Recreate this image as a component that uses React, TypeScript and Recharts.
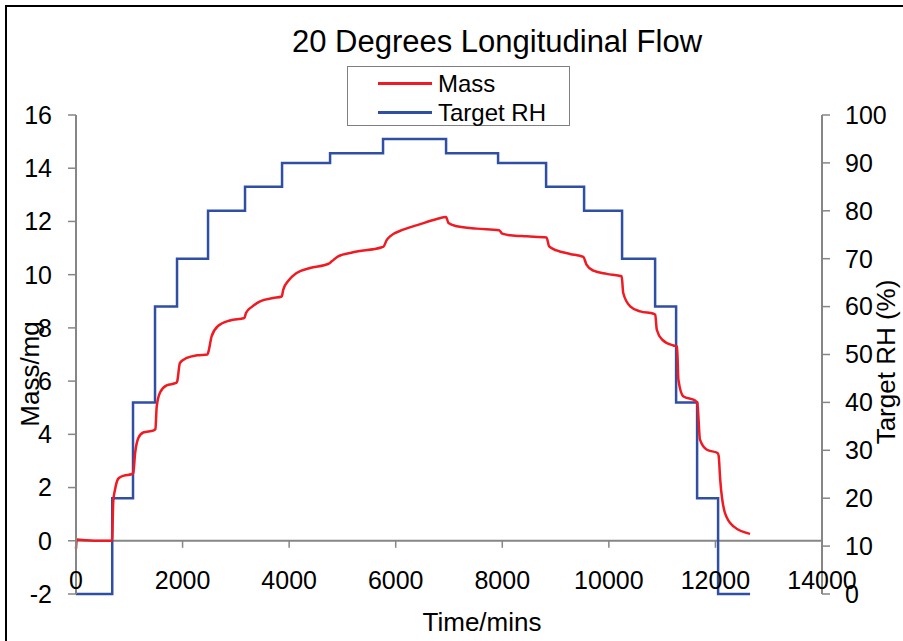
import React from "react"
import {
  LineChart,
  Line,
  XAxis,
  YAxis,
  Legend,
  ReferenceLine,
} from "recharts"

// Mass (mg)
const massTimes = [
  0, 15, 200, 450, 675, 700, 730, 800, 900, 1040,
  1075, 1110, 1170, 1260, 1460, 1490, 1515, 1580, 1700, 1880,
  1900, 1950, 2080, 2270, 2465, 2485, 2545, 2670, 2890, 3160,
  3190, 3300, 3455, 3700, 3860, 3890, 3985, 4140, 4390, 4740,
  4800, 4920, 5200, 5740, 5770, 5830, 5900, 6140, 6460, 6770,
  6945, 6990, 7150, 7520, 7940, 8000, 8150, 8460, 8830, 8880,
  9020, 9270, 9520, 9580, 9710, 9960, 10240, 10270, 10400, 10590,
  10840, 10870, 10900, 11000, 11210, 11280, 11305, 11400, 11620, 11660,
  11710, 11840, 12040, 12060, 12090, 12180, 12340, 12650,
]
const massValues = [
  -0.3, 0.05, 0.02, 0.0, 0.0, 1.5, 1.9, 2.35, 2.45, 2.5,
  2.55, 3.3, 3.86, 4.07, 4.15, 4.2, 5.05, 5.58, 5.84, 5.93,
  6.0, 6.68, 6.87, 6.97, 7.0, 7.1, 7.68, 8.08, 8.28, 8.37,
  8.56, 8.79, 9.0, 9.12, 9.18, 9.44, 9.77, 10.06, 10.25, 10.41,
  10.5, 10.69, 10.84, 11.03, 11.05, 11.3, 11.45, 11.69, 11.9, 12.09,
  12.17, 11.94, 11.82, 11.73, 11.67, 11.54, 11.48, 11.44, 11.4, 11.06,
  10.91, 10.78, 10.67, 10.38, 10.15, 10.03, 9.94, 9.31, 8.81, 8.62,
  8.53, 8.5, 7.93, 7.56, 7.34, 7.3, 6.05, 5.42, 5.27, 5.18,
  3.8, 3.42, 3.3, 3.2, 2.29, 1.04, 0.54, 0.26,
]

// Target RH (%) steps
const rhTimes = [
  0, 680, 1070, 1483, 1896, 2478, 3172, 3867, 4768, 5762,
  6945, 7921, 8822, 9535, 10248, 10868, 11262, 11656, 12050, 12650,
]
const rhValues = [
  0, 20, 40, 60, 70, 80, 85, 90, 92, 95,
  92, 90, 85, 80, 70, 60, 40, 20, 0, 0,
]

const timeTicks = [0, 2000, 4000, 6000, 8000, 10000, 12000, 14000]
const massTicks = [-2, 0, 2, 4, 6, 8, 10, 12, 14, 16]
const rhTicks = [0, 10, 20, 30, 40, 50, 60, 70, 80, 90, 100]

const W = 903
const H = 641
const PLOT_LEFT = 76
const PLOT_RIGHT = 822
const PLOT_TOP = 115
const PLOT_BOTTOM = 594
const AXIS = "#868686"
const RED = "#f01a22"
const BLUE = "#2f4fa5"
const FONT = 'Arial, "Liberation Sans", sans-serif'

const massData = massTimes.map((t, i) => ({ t, v: massValues[i] }))
const rhData = rhTimes.map((t, i) => ({ t, v: rhValues[i] }))

// x axis sits on mass = 0
const zeroY =
  PLOT_TOP +
  ((massTicks[massTicks.length - 1] - 0) / (massTicks[massTicks.length - 1] - massTicks[0])) *
    (PLOT_BOTTOM - PLOT_TOP)

function TimeTick({ x, payload }: any) {
  return (
    <g>
      <line x1={x} x2={x} y1={zeroY} y2={zeroY + 7} stroke={AXIS} strokeWidth={1.5} />
      <text x={x} y={zeroY + 48} textAnchor="middle" fontSize={25} fill="#000">
        {payload.value}
      </text>
    </g>
  )
}

function LegendBox() {
  const rows = [
    { name: "Mass", color: RED },
    { name: "Target RH", color: BLUE },
  ]
  return (
    <div
      style={{
        width: 223,
        height: 60,
        boxSizing: "border-box",
        border: "1px solid #808080",
        background: "#fff",
        paddingTop: 2,
      }}
    >
      {rows.map((r) => (
        <div key={r.name} style={{ height: 29, display: "flex", alignItems: "center" }}>
          <span style={{ marginLeft: 30, width: 54, height: 3, background: r.color }} />
          <span style={{ marginLeft: 6, fontSize: 24, color: "#000", lineHeight: "29px" }}>{r.name}</span>
        </div>
      ))}
    </div>
  )
}

export default function App() {
  return (
    <div
      style={{
        position: "fixed",
        left: 0,
        top: 0,
        width: W,
        height: H,
        background: "#fff",
        overflow: "hidden",
        fontFamily: FONT,
      }}
    >
      {/* outer frame, only left and top edges show */}
      <div
        style={{
          position: "absolute",
          left: 5,
          top: 5,
          width: W + 20,
          height: H + 20,
          border: "2.5px solid #000",
        }}
      />
      <LineChart
        width={W}
        height={H}
        margin={{ top: PLOT_TOP, right: W - PLOT_RIGHT - 60, bottom: H - PLOT_BOTTOM - 30, left: PLOT_LEFT - 60 }}
        style={{ fontFamily: FONT }}
      >
        <XAxis
          dataKey="t"
          type="number"
          domain={[0, 14000]}
          ticks={timeTicks}
          axisLine={false}
          tickLine={false}
          height={30}
          tick={<TimeTick />}
          interval={0}
        />
        <YAxis
          yAxisId="left"
          domain={[-2, 16]}
          ticks={massTicks}
          width={60}
          interval={0}
          stroke={AXIS}
          axisLine={{ stroke: AXIS, strokeWidth: 2 }}
          tickLine={{ stroke: AXIS, strokeWidth: 1.5 }}
          tickSize={8}
          tickMargin={16}
          tick={{ fontSize: 25, fill: "#000" }}
        />
        <YAxis
          yAxisId="right"
          orientation="right"
          domain={[0, 100]}
          ticks={rhTicks}
          width={60}
          interval={0}
          stroke={AXIS}
          axisLine={{ stroke: AXIS, strokeWidth: 2 }}
          tickLine={{ stroke: AXIS, strokeWidth: 1.5 }}
          tickSize={8}
          tickMargin={15}
          tick={{ fontSize: 25, fill: "#000" }}
        />
        <ReferenceLine yAxisId="left" y={0} stroke={AXIS} strokeWidth={2} />
        <Legend
          content={<LegendBox />}
          layout="horizontal"
          verticalAlign="middle"
          align="center"
          wrapperStyle={{ left: 347, top: 66, width: 223, height: 60 }}
        />
        <Line
          data={rhData}
          yAxisId="right"
          dataKey="v"
          name="Target RH"
          type="stepAfter"
          stroke={BLUE}
          strokeWidth={2.5}
          dot={false}
          isAnimationActive={false}
        />
        <Line
          data={massData}
          yAxisId="left"
          dataKey="v"
          name="Mass"
          type="monotone"
          stroke={RED}
          strokeWidth={2.5}
          dot={false}
          isAnimationActive={false}
        />
      </LineChart>

      <div
        style={{
          position: "absolute",
          left: 497,
          top: 42,
          transform: "translate(-50%, -50%)",
          fontSize: 31,
          whiteSpace: "nowrap",
          color: "#000",
        }}
      >
        20 Degrees Longitudinal Flow
      </div>
      <div
        style={{
          position: "absolute",
          left: 482,
          top: 622,
          transform: "translate(-50%, -50%)",
          fontSize: 26,
          whiteSpace: "nowrap",
          color: "#000",
        }}
      >
        Time/mins
      </div>
      <div
        style={{
          position: "absolute",
          left: 30,
          top: 374,
          transform: "translate(-50%, -50%) rotate(-90deg)",
          fontSize: 26,
          whiteSpace: "nowrap",
          color: "#000",
        }}
      >
        Mass/mg
      </div>
      <div
        style={{
          position: "absolute",
          left: 886,
          top: 362,
          transform: "translate(-50%, -50%) rotate(-90deg)",
          fontSize: 26,
          whiteSpace: "nowrap",
          color: "#000",
        }}
      >
        Target RH (%)
      </div>
    </div>
  )
}
